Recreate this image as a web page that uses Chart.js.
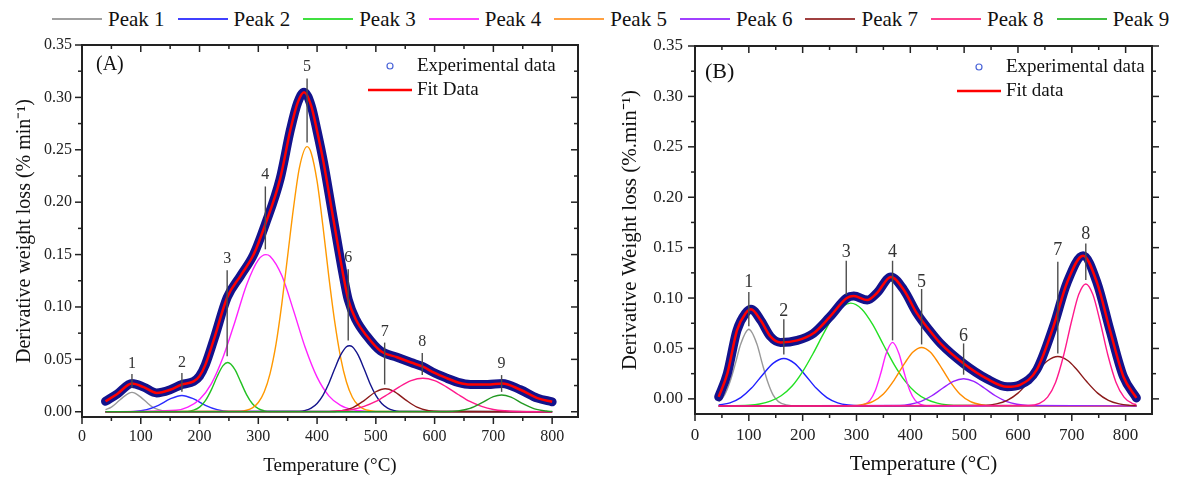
<!DOCTYPE html>
<html>
<head>
<meta charset="utf-8">
<script src="https://cdn.jsdelivr.net/npm/chart.js@4.4.1/dist/chart.umd.min.js"></script>
<style>
  body { margin: 0; width: 1181px; height: 480px; background: #fff; position: relative; overflow: hidden; font-family: "Liberation Serif", "Times New Roman", serif; }
  #legend { position: absolute; left: 52px; top: 6px; height: 26px; display: flex; align-items: center; white-space: nowrap; }
  .item { display: flex; align-items: center; margin-right: 13px; font-size: 21px; color: #111; }
  .item i { display: inline-block; width: 50px; height: 2px; margin-right: 6px; }
  canvas { position: absolute; }
</style>
</head>
<body>
<div id="legend"></div>
<canvas id="ca" width="600" height="444" style="left:0;top:36px"></canvas>
<canvas id="cb" width="581" height="444" style="left:600px;top:36px"></canvas>
<script>
const serif = "'Liberation Serif', 'Times New Roman', serif"

const peakNames = ["Peak 1", "Peak 2", "Peak 3", "Peak 4", "Peak 5", "Peak 6", "Peak 7", "Peak 8", "Peak 9"]
const legendColors = ["#a0a0a0", "#4040ff", "#40e040", "#ff40ff", "#ffa040", "#a040ff", "#a04040", "#ff4090", "#40c040"]

// axis ticks
const xMajor = [0, 100, 200, 300, 400, 500, 600, 700, 800]
const xMinor = [50, 150, 250, 350, 450, 550, 650, 750]
const yMajor = [0, 0.05, 0.10, 0.15, 0.20, 0.25, 0.30, 0.35]
const yMinor = [0.025, 0.075, 0.125, 0.175, 0.225, 0.275, 0.325]

// (A) deconvoluted peaks, temperature (°C) and rate
const peakTempA = [
  [40, 50, 60, 70, 80, 85, 90, 100, 110, 120, 130, 140, 150, 800],
  [40, 90, 110, 130, 150, 170, 190, 210, 230, 250, 800],
  [40, 180, 190, 200, 210, 220, 230, 240, 248, 260, 270, 280, 290, 300, 310, 320, 800],
  [40, 160, 180, 200, 220, 240, 260, 280, 300, 313, 320, 340, 360, 380, 400, 420, 440, 460, 480, 500, 800],
  [40, 270, 280, 290, 300, 310, 320, 330, 340, 350, 360, 370, 383, 390, 400, 410, 420, 430, 440, 450, 460, 470, 480, 490, 500, 800],
  [40, 370, 380, 390, 400, 410, 420, 430, 440, 450, 455, 460, 470, 480, 490, 500, 510, 520, 530, 540, 800],
  [40, 420, 440, 460, 480, 500, 516, 530, 550, 570, 590, 610, 800],
  [40, 420, 440, 460, 480, 500, 520, 540, 560, 580, 600, 620, 640, 660, 680, 700, 720, 740, 800],
  [40, 620, 640, 660, 680, 700, 714, 730, 750, 770, 790, 800]
]
const peakValA = [
  [0.002, 0.0045, 0.009, 0.014, 0.0178, 0.0185, 0.0178, 0.014, 0.009, 0.0045, 0.002, 0.0006, 0.0001, 0],
  [0, 0.0004, 0.002, 0.0062, 0.0122, 0.0155, 0.0122, 0.0062, 0.002, 0.0004, 0],
  [0, 0.0004, 0.0015, 0.0044, 0.0106, 0.0209, 0.0337, 0.044, 0.047, 0.0405, 0.0285, 0.0164, 0.0076, 0.0029, 0.0009, 0.0002, 0],
  [0, 0.0014, 0.0044, 0.0117, 0.0266, 0.052, 0.0855, 0.121, 0.145, 0.150, 0.1485, 0.130, 0.0965, 0.061, 0.033, 0.0152, 0.006, 0.002, 0.0006, 0.0001, 0],
  [0, 0.0005, 0.0014, 0.0037, 0.0088, 0.0188, 0.0364, 0.064, 0.103, 0.149, 0.195, 0.233, 0.253, 0.247, 0.220, 0.177, 0.129, 0.086, 0.052, 0.0284, 0.0139, 0.0062, 0.0025, 0.001, 0.0003, 0],
  [0, 0.0004, 0.0013, 0.0035, 0.0079, 0.0157, 0.027, 0.041, 0.054, 0.062, 0.063, 0.062, 0.054, 0.041, 0.027, 0.0157, 0.0079, 0.0035, 0.0013, 0.0004, 0],
  [0, 0.0001, 0.0009, 0.0038, 0.0107, 0.0191, 0.022, 0.0197, 0.0116, 0.0044, 0.001, 0.0002, 0],
  [0, 0.0003, 0.0009, 0.0022, 0.0051, 0.0098, 0.0165, 0.0238, 0.0297, 0.032, 0.0297, 0.0238, 0.0165, 0.0098, 0.0051, 0.0022, 0.0009, 0.0003, 0],
  [0, 0.0001, 0.0008, 0.0032, 0.0084, 0.0144, 0.016, 0.0139, 0.0078, 0.0028, 0.0007, 0.0003]
]
// (A) fit curve, experimental points sit on it
const fitTempA = [40, 60, 85, 105, 127, 150, 170, 190, 200, 210, 225, 247, 270, 292, 312, 337, 355, 367, 378, 390, 400, 411, 428, 445, 453, 466, 485, 508, 536, 560, 580, 600, 621, 640, 661, 690, 715, 746, 775, 800]
const fitValA = [0.010, 0.017, 0.027, 0.0235, 0.018, 0.021, 0.026, 0.029, 0.034, 0.045, 0.070, 0.109, 0.130, 0.150, 0.179, 0.222, 0.270, 0.295, 0.305, 0.292, 0.268, 0.238, 0.183, 0.129, 0.107, 0.088, 0.072, 0.058, 0.052, 0.047, 0.043, 0.037, 0.032, 0.028, 0.026, 0.026, 0.027, 0.021, 0.013, 0.0095]
// (A) peak markers
const markTempA = [85, 170, 247, 312, 383, 453, 515, 579, 714]
const markLowA = [0.023, 0.019, 0.053, 0.155, 0.257, 0.068, 0.026, 0.035, 0.019]
const markHighA = [0.036, 0.037, 0.135, 0.215, 0.318, 0.136, 0.066, 0.056, 0.035]
const markLabelA = [0.046, 0.047, 0.146, 0.226, 0.329, 0.147, 0.076, 0.067, 0.046]

// (B) deconvoluted peaks
const peakTempB = [
  [44, 55, 65, 75, 85, 100, 115, 125, 135, 145, 155, 170, 190, 820],
  [44, 65, 85, 105, 125, 145, 165, 185, 205, 225, 245, 265, 285, 305, 820],
  [44, 100, 120, 140, 160, 180, 200, 220, 240, 260, 289, 310, 330, 350, 370, 390, 410, 430, 450, 470, 490, 820],
  [44, 300, 315, 325, 335, 345, 355, 367, 379, 389, 399, 409, 419, 434, 820],
  [44, 290, 310, 330, 350, 370, 390, 405, 421, 437, 452, 472, 492, 512, 532, 552, 820],
  [44, 380, 400, 420, 440, 460, 480, 499, 518, 538, 558, 578, 598, 618, 820],
  [44, 540, 560, 580, 600, 620, 640, 655, 674, 693, 708, 728, 748, 768, 788, 808, 820],
  [44, 620, 640, 655, 670, 685, 700, 713, 726, 739, 752, 767, 782, 797, 812, 820]
]
const peakValB = [
  [-0.003, 0.004, 0.017, 0.035, 0.0545, 0.069, 0.0545, 0.035, 0.017, 0.004, -0.0027, -0.006, -0.007, -0.007],
  [-0.0061, -0.0039, 0.0013, 0.0107, 0.0235, 0.0352, 0.040, 0.0352, 0.0235, 0.0107, 0.0013, -0.0039, -0.0061, -0.0068, -0.007],
  [-0.007, -0.0063, -0.0051, -0.0023, 0.0031, 0.0125, 0.0271, 0.0456, 0.066, 0.0839, 0.095, 0.089, 0.0739, 0.0537, 0.034, 0.0178, 0.0063, -0.0006, -0.0042, -0.0059, -0.0066, -0.007],
  [-0.007, -0.0069, -0.0055, -0.0015, 0.0083, 0.0251, 0.0447, 0.056, 0.0447, 0.0251, 0.0083, -0.0015, -0.0055, -0.0069, -0.007],
  [-0.007, -0.0067, -0.0058, -0.0027, 0.0049, 0.0187, 0.0358, 0.0465, 0.051, 0.0465, 0.0358, 0.0187, 0.0049, -0.0027, -0.0058, -0.0067, -0.007],
  [-0.007, -0.0065, -0.0053, -0.0024, 0.0031, 0.0105, 0.0174, 0.020, 0.0174, 0.0105, 0.0031, -0.0024, -0.0053, -0.0065, -0.007],
  [-0.007, -0.0064, -0.005, -0.0015, 0.0057, 0.0169, 0.0298, 0.0378, 0.042, 0.0378, 0.0298, 0.0169, 0.0057, -0.0015, -0.005, -0.0064, -0.0067],
  [-0.007, -0.0066, -0.0044, 0.0018, 0.0166, 0.0435, 0.078, 0.1037, 0.114, 0.1037, 0.078, 0.0435, 0.0166, 0.0018, -0.0044, -0.0057]
]
const fitTempB = [44, 60, 78, 94, 104, 122, 140, 159, 190, 220, 250, 282, 295, 320, 338, 364, 388, 412, 437, 456, 499, 542, 580, 604, 635, 666, 691, 721, 747, 771, 796, 820]
const fitValB = [0.002, 0.025, 0.068, 0.085, 0.089, 0.078, 0.062, 0.056, 0.058, 0.065, 0.081, 0.100, 0.102, 0.098, 0.105, 0.121, 0.108, 0.085, 0.067, 0.055, 0.035, 0.020, 0.012, 0.014, 0.029, 0.072, 0.115, 0.142, 0.115, 0.068, 0.022, 0.001]
const markTempB = [100, 165, 281, 367, 421, 499, 674, 726]
const markLowB = [0.072, 0.044, 0.103, 0.058, 0.054, 0.024, 0.045, 0.118]
const markHighB = [0.106, 0.079, 0.137, 0.137, 0.109, 0.055, 0.136, 0.154]
const markLabelB = [0.1155, 0.087, 0.145, 0.145, 0.116, 0.0624, 0.147, 0.163]

const colorsA = ["#999999", "#2b2bff", "#22c022", "#ff22ff", "#ff9900", "#14148c", "#8b1a1a", "#ff1a8c", "#229922"]
const colorsB = ["#999999", "#2020ff", "#22e022", "#ff22ff", "#ff8c00", "#9922ff", "#8b1a1a", "#ff1a8c"]

// top legend, shared by both panels
const legendBox = document.getElementById("legend")
peakNames.forEach((name, i) => {
  const item = document.createElement("span")
  item.className = "item"
  item.innerHTML = `<i style="background:${legendColors[i]}"></i>${name}`
  legendBox.appendChild(item)
})

const toXY = (xs, ys) => xs.map((x, i) => ({ x: x, y: ys[i] }))

// frame, origin-style ticks, peak markers and the inset legend
function decor(p) {
  return {
    id: "decor",
    afterDatasetsDraw(chart) {
      const { ctx } = chart
      const x = chart.scales.x, y = chart.scales.y
      ctx.save()
      ctx.strokeStyle = "#4d4d4d"
      ctx.lineWidth = 1.4
      ctx.fillStyle = "#333"
      ctx.font = p.markFont + "px " + serif
      ctx.textAlign = "center"
      ctx.textBaseline = "middle"
      p.markT.forEach((t, i) => {
        const px = x.getPixelForValue(t)
        ctx.beginPath()
        ctx.moveTo(px, y.getPixelForValue(p.markLo[i]))
        ctx.lineTo(px, y.getPixelForValue(p.markHi[i]))
        ctx.stroke()
        ctx.fillText(String(i + 1), px, y.getPixelForValue(p.markLab[i]))
      })
      ctx.restore()
    },
    afterDraw(chart) {
      const { ctx, chartArea: a } = chart
      const x = chart.scales.x, y = chart.scales.y
      ctx.save()
      ctx.strokeStyle = "#222"
      ctx.lineWidth = 2
      ctx.strokeRect(a.left, a.top, a.right - a.left, a.bottom - a.top)
      ctx.lineWidth = 1.5
      const seg = (x1, y1, x2, y2) => { ctx.beginPath(); ctx.moveTo(x1, y1); ctx.lineTo(x2, y2); ctx.stroke() }
      const xt = (list, len) => list.forEach(v => {
        const px = x.getPixelForValue(v)
        seg(px, a.bottom, px, a.bottom + len)
        seg(px, a.top, px, a.top + len)
      })
      const yt = (list, len) => list.forEach(v => {
        const py = y.getPixelForValue(v)
        seg(a.left - len, py, a.left, py)
        if (p.rightOut) seg(a.right, py, a.right + len, py)
        else seg(a.right - len, py, a.right, py)
      })
      xt(xMajor, 7); xt(xMinor, 4)
      yt(yMajor, 7); yt(yMinor, 4)

      // panel tag
      ctx.fillStyle = "#111"
      ctx.textBaseline = "middle"
      ctx.textAlign = "left"
      ctx.font = p.tagFont + "px " + serif
      ctx.fillText(p.tag, a.left + p.tagAt[0], a.top + p.tagAt[1])

      // inset legend
      const lx = a.left + p.legendAt[0], ly = a.top + p.legendAt[1]
      ctx.font = p.legFont + "px " + serif
      ctx.strokeStyle = "#4a64d8"
      ctx.lineWidth = 1.2
      ctx.beginPath()
      ctx.arc(lx - 27, ly, 3, 0, Math.PI * 2)
      ctx.stroke()
      ctx.fillText("Experimental data", lx, ly)
      ctx.strokeStyle = "#ff0000"
      ctx.lineWidth = 2.5
      seg(lx - 49, ly + 24, lx - 5, ly + 24)
      ctx.fillText(p.fitLabel, lx, ly + 24)
      ctx.restore()
    }
  }
}

function drawPanel(p) {
  const ctx = document.getElementById(p.canvas).getContext("2d")
  const datasets = [
    { label: p.fitLabel, data: toXY(p.fitT, p.fitV), borderColor: "#ff0000", borderWidth: 2.5, order: 0 },
    { label: "Experimental data", data: toXY(p.fitT, p.fitV), borderColor: "#13138c", borderWidth: 9, borderCapStyle: "round", borderJoinStyle: "round", order: 1 }
  ]
  p.peakT.forEach((t, i) => {
    datasets.push({ label: peakNames[i], data: toXY(t, p.peakV[i]), borderColor: p.colors[i], borderWidth: 1.4, order: 20 - i })
  })

  const tickFont = { family: serif, size: p.tickFont }
  return new Chart(ctx, {
    type: "line",
    data: { datasets: datasets },
    options: {
      responsive: false,
      animation: false,
      devicePixelRatio: 1,
      layout: { padding: p.pad },
      elements: {
        point: { radius: 0 },
        line: { cubicInterpolationMode: "monotone", fill: false }
      },
      plugins: { legend: { display: false }, tooltip: { enabled: false } },
      scales: {
        x: {
          type: "linear",
          min: 0,
          max: p.xMax,
          afterFit: (s) => { s.height = p.xAxisH; s.paddingLeft = 0; s.paddingRight = 0 },
          afterBuildTicks: (s) => { s.ticks = xMajor.map(v => ({ value: v })) },
          grid: { display: false, drawTicks: false },
          border: { display: false },
          ticks: { font: tickFont, color: "#222", padding: p.xTickPad, autoSkip: false, maxRotation: 0, callback: (v) => String(v) },
          title: { display: true, text: "Temperature (°C)", color: "#111", font: { family: serif, size: p.titleFont }, padding: { top: 0, bottom: p.xTitlePad } }
        },
        y: {
          min: p.yMin,
          max: 0.35,
          afterFit: (s) => { s.width = p.yAxisW; s.paddingTop = 0; s.paddingBottom = 0 },
          afterBuildTicks: (s) => { s.ticks = yMajor.map(v => ({ value: v })) },
          grid: { display: false, drawTicks: false },
          border: { display: false },
          ticks: { font: tickFont, color: "#222", padding: p.yTickPad, autoSkip: false, callback: (v) => v.toFixed(2) },
          title: { display: true, text: p.yTitle, color: "#111", font: { family: serif, size: p.yTitleFont }, padding: { top: p.yTitlePad, bottom: 0 } }
        }
      }
    },
    plugins: [decor(p)]
  })
}

drawPanel({
  canvas: "ca", peakT: peakTempA, peakV: peakValA, colors: colorsA,
  fitT: fitTempA, fitV: fitValA, fitLabel: "Fit Data", tag: "(A)",
  markT: markTempA, markLo: markLowA, markHi: markHighA, markLab: markLabelA,
  xMax: 844, yMin: -0.005, yAxisW: 82, xAxisH: 63, pad: { top: 9, right: 22, left: 0, bottom: 0 },
  tickFont: 16, titleFont: 19, yTitleFont: 20, yTitle: "Derivative weight loss (% min⁻¹)",
  yTitlePad: 13, xTitlePad: 3, yTickPad: 10, xTickPad: 10, markFont: 16, legFont: 19, tagFont: 20,
  rightOut: false, legendAt: [335, 21], tagAt: [14, 20]
})

drawPanel({
  canvas: "cb", peakT: peakTempB, peakV: peakValB, colors: colorsB,
  fitT: fitTempB, fitV: fitValB, fitLabel: "Fit data", tag: "(B)",
  markT: markTempB, markLo: markLowB, markHi: markHighB, markLab: markLabelB,
  xMax: 849, yMin: -0.015, yAxisW: 95, xAxisH: 66, pad: { top: 10, right: 29, left: 0, bottom: 0 },
  tickFont: 17, titleFont: 21, yTitleFont: 21, yTitle: "Derivative Weight loss (%.min⁻¹)",
  yTitlePad: 18, xTitlePad: 3, yTickPad: 12, xTickPad: 11, markFont: 18, legFont: 19, tagFont: 22,
  rightOut: true, legendAt: [311, 21], tagAt: [10, 26]
})
</script>
</body>
</html>
